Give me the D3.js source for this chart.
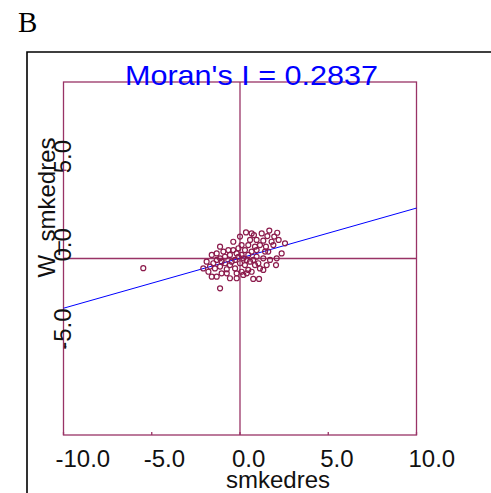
<!DOCTYPE html>
<html><head><meta charset="utf-8">
<script src="https://cdn.jsdelivr.net/npm/d3@7"></script>
<style>body{margin:0;background:#fff}svg{display:block}</style>
</head><body>
<svg id="c" width="491" height="493"></svg>
<script>
const xTicks = [-10, -5, 0, 5, 10];
const yTicks = [-5, 0, 5];
const moransI = 0.2837;
const intercept = 0.02;
const xs = [0.34,0.79,1.23,1.66,2.11,1.55,1.94,2.19,1.79,1.32,0.94,0.57,1.13,1.47,1.89,2.55,2.36,2.08,2.04,1.70,1.32,1.51,1.13,0.85,0.47,0.75,1.08,0.19,-0.19,-0.57,-0.75,-1.13,-1.32,-1.60,-1.79,-2.08,-1.89,-1.60,-1.32,-1.13,-0.85,-0.57,-0.38,-0.09,0.09,0.28,0.47,0.66,-0.38,-0.66,-0.94,-0.28,0,0.28,0.57,-0.57,-0.85,-1.13,-1.51,-1.42,-0.28,-0.19,0.09,0.38,0.66,-5.48,0.94,1.60,0.09,-0.19,-0.47,-1.32,-0.75,-1.04,0.38,0.94,-1.13,1.42,0,0.66,-0.09,0.19,0.75,-1.04,-1.70,1.04,1.32,0.47,0.85];
const ys = [1.48,1.33,1.42,1.58,1.46,1.27,1.24,1.05,0.95,1.01,1.05,1.05,0.76,0.67,0.76,0.86,0.29,0.01,-0.37,-0.08,0.01,-0.37,-0.56,-0.37,-0.65,-1.16,-1.16,-0.93,-1.12,-1.12,-0.84,-1.69,-1.03,-1.03,-0.75,-0.56,-0.18,0.20,0.29,0.01,0.10,0.20,0.95,0.58,0.76,0.48,0.20,0.39,0.48,0.48,0.39,-0.08,-0.27,-0.37,-0.18,-0.37,-0.27,-0.46,-0.27,-0.56,-0.56,-0.84,-0.75,-0.84,-0.75,-0.55,0.48,0.39,0.20,0.29,-0.18,-0.08,-0.61,-0.84,-0.08,0.10,0.67,0.39,1.24,1.42,0.10,0.01,-0.08,-0.18,-0.46,-0.27,-0.65,0.76,0.67];

const svg = d3.select("#c");
const x = d3.scaleLinear().domain([-10, 10]).range([63.5, 416.5]);
const y = d3.scaleLinear().domain([-10, 10]).range([435, 82]);
const lineCol = "#993366", ptCol = "#8b1a4b";
const font = "'Liberation Sans', Arial, sans-serif";

// panel letter
svg.append("text").attr("x", 18).attr("y", 32).attr("font-family", "'Liberation Serif', 'Times New Roman', serif")
  .attr("font-size", 29).attr("fill", "#000").text("B");

// outer frame
svg.append("path").attr("d", "M27,493V52H491").attr("fill", "none").attr("stroke", "#000").attr("stroke-width", 1.6);

// plot box
svg.append("rect").attr("x", x(-10)).attr("y", y(10)).attr("width", x(10) - x(-10)).attr("height", y(-10) - y(10))
  .attr("fill", "none").attr("stroke", lineCol).attr("stroke-width", 1.3);
// zero lines
svg.append("line").attr("x1", x(0)).attr("x2", x(0)).attr("y1", y(10)).attr("y2", y(-10)).attr("stroke", lineCol).attr("stroke-width", 1.3);
svg.append("line").attr("x1", x(-10)).attr("x2", x(10)).attr("y1", y(0)).attr("y2", y(0)).attr("stroke", lineCol).attr("stroke-width", 1.3);

// ticks
svg.selectAll(".xt").data(xTicks).join("line").attr("x1", d => x(d)).attr("x2", d => x(d))
  .attr("y1", y(-10)).attr("y2", y(-10) - 3).attr("stroke", lineCol).attr("stroke-width", 1.3);
svg.selectAll(".yt").data(yTicks).join("line").attr("x1", x(-10)).attr("x2", x(-10) + 3)
  .attr("y1", d => y(d)).attr("y2", d => y(d)).attr("stroke", lineCol).attr("stroke-width", 1.3);

// x tick labels
svg.selectAll(".xl").data(xTicks).join("text").attr("x", d => x(d) - 8).attr("y", 467)
  .attr("font-family", font).attr("font-size", 24).attr("fill", "#111").text(d => d3.format(".1f")(d).replace("−", "-"));
// y tick labels
svg.selectAll(".yl").data(yTicks).join("text")
  .attr("transform", d => `translate(71,${y(d) + 3}) rotate(-90)`)
  .attr("font-family", font).attr("font-size", 24).attr("fill", "#111").text(d => d3.format(".1f")(d).replace("−", "-"));

// axis titles
svg.append("text").attr("x", 278).attr("y", 488).attr("text-anchor", "middle")
  .attr("font-family", font).attr("font-size", 24).attr("fill", "#111").text("smkedres");
svg.append("text").attr("transform", "translate(55,207.5) rotate(-90)").attr("text-anchor", "middle")
  .attr("font-family", font).attr("font-size", 24).attr("fill", "#111").text("W_smkedres");

// regression line
svg.append("line").attr("x1", x(-10)).attr("y1", y(intercept + moransI * -10))
  .attr("x2", x(10)).attr("y2", y(intercept + moransI * 10)).attr("stroke", "#0000ff").attr("stroke-width", 1);

// points
svg.selectAll(".pt").data(xs.map((v, i) => [v, ys[i]])).join("circle")
  .attr("cx", d => x(d[0])).attr("cy", d => y(d[1])).attr("r", 2.5)
  .attr("fill", "none").attr("stroke", ptCol).attr("stroke-width", 1.2);

// title
svg.append("text").attr("x", 251.5).attr("y", 85).attr("text-anchor", "middle")
  .attr("font-family", font).attr("font-size", 28).attr("fill", "#0000ff")
  .attr("textLength", 253).attr("lengthAdjust", "spacingAndGlyphs").text("Moran's I = " + moransI.toFixed(4));
</script>
</body></html>
